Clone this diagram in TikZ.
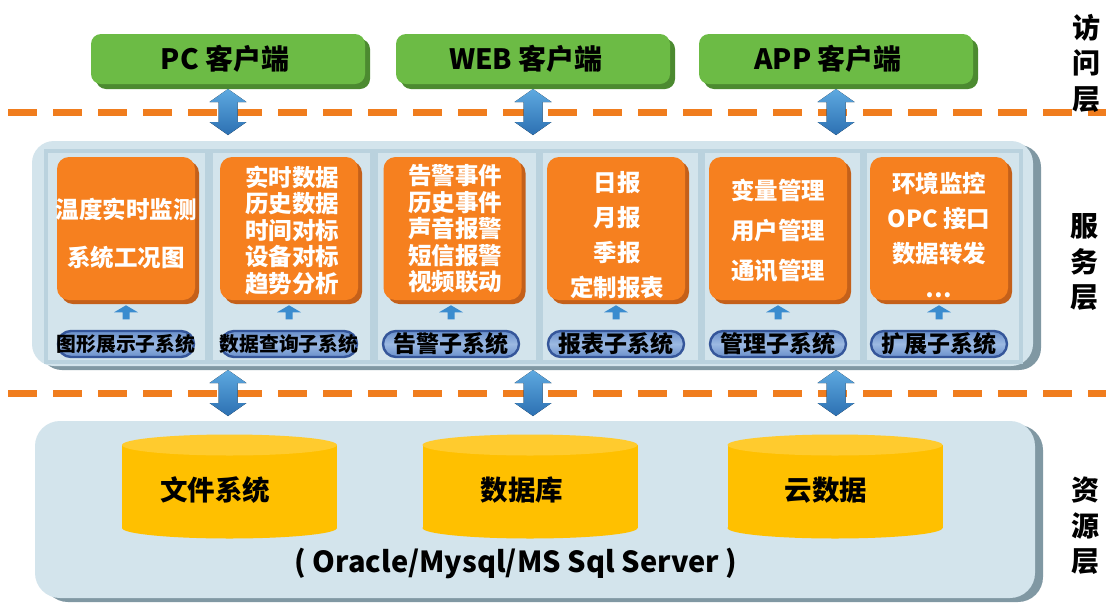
\documentclass[tikz,border=0pt]{standalone}
\usepackage{fontspec}
\setmainfont{Noto Sans CJK SC}
\usetikzlibrary{shadows}
\definecolor{gboxc}{HTML}{6CBB45}
\definecolor{gshad}{HTML}{4C8A30}
\definecolor{oboxc}{HTML}{F6801F}
\definecolor{oshad}{HTML}{C4601A}
\definecolor{dashc}{HTML}{F07D1E}
\definecolor{panelc}{HTML}{D3E4EC}
\definecolor{panelsh}{HTML}{8098A3}
\definecolor{colline}{HTML}{BAD2DE}
\definecolor{arrowc}{HTML}{3A8CCF}
\definecolor{arrowtop}{HTML}{5EA9E0}
\definecolor{arrowbot}{HTML}{2C70B2}
\definecolor{pillc}{HTML}{6A90CB}
\definecolor{pilll}{HTML}{9CB9E2}
\definecolor{pillb}{HTML}{35569A}
\definecolor{cylc}{HTML}{FFC000}
\definecolor{cyltop}{HTML}{FFCB2E}
\begin{document}
\begin{tikzpicture}[x=1pt,y=-1pt,
  greenbox/.style={fill=gboxc, rounded corners=10pt, minimum width=274pt, minimum height=50pt, inner sep=0pt,
    font=\bfseries\fontsize{28pt}{30pt}\selectfont,
    drop shadow={shadow xshift=5pt, shadow yshift=-5pt, fill=gshad, opacity=1}},
  orangebox/.style={fill=oboxc, rounded corners=12pt, minimum width=138pt, minimum height=143pt, inner sep=0pt,
    drop shadow={shadow xshift=4pt, shadow yshift=-4pt, fill=oshad, opacity=1}},
  otext/.style={text=white, align=center, inner sep=0pt, font=\bfseries\fontsize{23.5pt}{26.5pt}\selectfont},
  pill/.style={draw=pillb, line width=2.4pt, rounded corners=13pt, minimum width=136pt, minimum height=26pt, inner sep=0pt,
    top color=pillc, bottom color=pillc, middle color=pilll},
  pilltext/.style={inner sep=0pt, font=\bfseries\fontsize{23pt}{24pt}\selectfont},
  pilltextsm/.style={inner sep=0pt, font=\bfseries\fontsize{19.8pt}{24pt}\selectfont},
  panel/.style={fill=panelc, inner sep=0pt, drop shadow={shadow xshift=8pt, shadow yshift=-4pt, fill=panelsh, opacity=1}},
  column/.style={draw=colline, line width=4pt, fill=panelc, minimum height=211pt, inner sep=0pt},
  dashline/.style={draw=dashc, line width=7pt, dash pattern=on 29pt off 16pt},
  layerlabel/.style={align=center, inner sep=0pt, font=\bfseries\fontsize{28pt}{35.5pt}\selectfont},
  cyllabel/.style={inner sep=0pt, font=\bfseries\fontsize{27.5pt}{30pt}\selectfont},
  oralabel/.style={inner sep=0pt, font=\bfseries\fontsize{29pt}{30pt}\selectfont},
  dblarrow/.pic={\fill[top color=arrowtop, bottom color=arrowbot]
      (0,-23) -- (18.5,-10) -- (9.5,-10) -- (9.5,10) -- (18.5,10) -- (0,23) -- (-18.5,10) -- (-9.5,10) -- (-9.5,-10) -- (-18.5,-10) -- cycle;},
  uparrow/.pic={\fill[arrowc] (-12,-17.5) -- (0,-24.5) -- (12,-17.5) -- (3.5,-17.5) -- (3.5,-10.5) -- (-3.5,-10.5) -- (-3.5,-17.5) -- cycle;}
]
\useasboundingbox (0,0) rectangle (1106,603);
\fill[white] (0,0) rectangle (1106,603);

% dashed separators
\coordinate (dashTop) at (0,112);
\coordinate (dashBot) at (0,393);
\draw[dashline] (8,112) -- (1106,112);
\draw[dashline] (8,393) -- (1106,393);

% access layer
\node[greenbox] (pc)  at (228,59) {\hspace*{-6pt}PC 客户端};
\node[greenbox] (web) at (533,59) {\hspace*{-14pt}WEB 客户端};
\node[greenbox] (app) at (836,59) {\hspace*{-16pt}APP 客户端};

% service panel
\node[panel, rounded corners=22pt, minimum width=1001pt, minimum height=225pt] (srv) at (532.5,253.5) {};
\node[column, minimum width=161pt] (c1) at (126.5,256.5) {};
\node[column, minimum width=161pt] (c2) at (291.5,256.5) {};
\node[column, minimum width=162pt] (c3) at (457,256.5) {};
\node[column, minimum width=159pt] (c4) at (620.5,256.5) {};
\node[column, minimum width=159pt] (c5) at (782.5,256.5) {};
\node[column, minimum width=156pt] (c6) at (943,256.5) {};

\node[orangebox] (o1) at (126,228.5) {};
\node[orangebox] (o2) at (289,228.5) {};
\node[orangebox] (o3) at (452.5,228.5) {};
\node[orangebox] (o4) at (616,228.5) {};
\node[orangebox] (o5) at (778,228.5) {};
\node[orangebox] (o6) at (939,228.5) {};

\node[otext] (t1) at (126,234) {温度实时监测\\[21.5pt]系统工况图};
\node[otext] (t2) at (292,230) {实时数据\\历史数据\\时间对标\\设备对标\\趋势分析};
\node[otext] (t3) at (455,229) {告警事件\\历史事件\\声音报警\\短信报警\\视频联动};
\node[otext] (t4) at (617,235) {日报\\[8.5pt]月报\\[8.5pt]季报\\[8.5pt]定制报表};
\node[otext] (t5) at (778,230.5) {变量管理\\[13.5pt]用户管理\\[13.5pt]通讯管理};
\node[otext] (t6) at (939,235.5) {环境监控\\[8.5pt]OPC 接口\\[8.5pt]数据转发\\[8.5pt]…};

\node[pill] (p1) at (126,344) {};
\node[pill] (p2) at (289,344) {};
\node[pill] (p3) at (451,344) {};
\node[pill] (p4) at (616,344) {};
\node[pill] (p5) at (778,344) {};
\node[pill] (p6) at (939,344) {};
\node[pilltextsm] (pt1) at (p1) {图形展示子系统};
\node[pilltextsm] (pt2) at (p2) {数据查询子系统};
\node[pilltext] (pt3) at (p3) {告警子系统};
\node[pilltext] (pt4) at (p4) {报表子系统};
\node[pilltext] (pt5) at (p5) {管理子系统};
\node[pilltext] (pt6) at (p6) {扩展子系统};
\foreach \p in {p1,p2,p3,p4,p5,p6} { \pic at (\p.north) {uparrow}; }

% resource panel
\node[panel, rounded corners=25pt, minimum width=1000pt, minimum height=177pt] (res) at (535,509.5) {};
\foreach \cx/\nm in {229.5/cy1, 530/cy2, 835/cy3} {
  \fill[cylc] (\cx-107.5,445) rectangle (\cx+107.5,528);
  \fill[cylc] (\cx,528) ellipse [x radius=107.5, y radius=10.5];
  \fill[cyltop] (\cx,445) ellipse [x radius=107.5, y radius=10.5];
  \coordinate (\nm) at (\cx,490);
}
\node[cyllabel] (fs) at (215,490) {文件系统};
\node[cyllabel] (db) at (522,490) {数据库};
\node[cyllabel] (cloud) at (826,490) {云数据};
\node[oralabel] (ora) at (516,563) {( Oracle/Mysql/MS Sql Server )};

% layer arrows
\pic at (pc.south |- dashTop) {dblarrow};
\pic at (web.south |- dashTop) {dblarrow};
\pic at (app.south |- dashTop) {dblarrow};
\pic at (pc.south |- dashBot) {dblarrow};
\pic at (web.south |- dashBot) {dblarrow};
\pic at (app.south |- dashBot) {dblarrow};

% layer labels
\node[layerlabel] (l1) at (1086,63) {访\\问\\层};
\node[layerlabel] (l2) at (1084,262) {服\\务\\层};
\node[layerlabel] (l3) at (1085,526) {资\\源\\层};
\end{tikzpicture}
\end{document}
